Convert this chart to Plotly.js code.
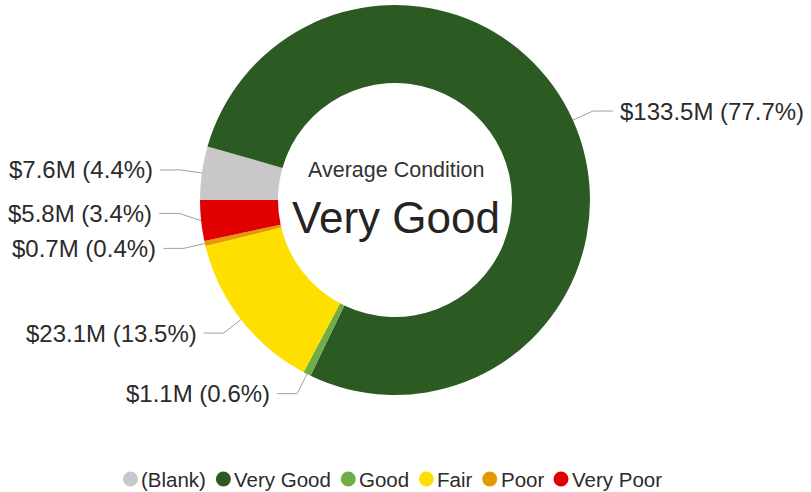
<!DOCTYPE html>
<html><head><meta charset="utf-8">
<script src="https://cdn.plot.ly/plotly-3.0.1.min.js"></script>
<style>html,body{margin:0;padding:0;background:#fff}#chart{width:811px;height:492px}</style>
</head><body><div id="chart"></div>
<script>
// ---- data ----
const categories = ['(Blank)', 'Very Good', 'Good', 'Fair', 'Poor', 'Very Poor'];
const valuesM    = [7.6, 133.5, 1.1, 23.1, 0.7, 5.8];
const percents   = [4.4, 77.7, 0.6, 13.5, 0.4, 3.4];
const colors     = ['#c8c8c8', '#2b5a23', '#70ad47', '#ffdf00', '#e39a00', '#e00000'];
const centerTitle = 'Average Condition';
const centerValue = 'Very Good';

// ---- layout constants ----
const W = 811, H = 492;
const FONT = '"Liberation Sans", Arial, sans-serif';
const dom = {x: [200 / W, 590 / W], y: [1 - 395 / H, 1 - 5 / H]};
const rotation = 270;
const cx = (dom.x[0] + dom.x[1]) / 2 * W;
const cy = (1 - (dom.y[0] + dom.y[1]) / 2) * H;
const R = Math.min((dom.x[1] - dom.x[0]) * W, (dom.y[1] - dom.y[0]) * H) / 2;
const px2x = x => x / W, px2y = y => 1 - y / H;

// ---- label geometry from data ----
const total = valuesM.reduce((a, b) => a + b, 0);
let ang = rotation;
const labels = valuesM.map((v, i) => {
  const a0 = ang, a1 = ang + v / total * 360; ang = a1;
  const t = (a0 + a1) / 2 * Math.PI / 180;
  const sn = Math.sin(t), cs = Math.cos(t);
  return {i, side: sn >= 0 ? 1 : -1, px: cx + R * sn, py: cy - R * cs,
          ex: cx + (R + 22) * sn, ey: cy - (R + 22) * cs};
});
[-1, 1].forEach(side => {
  const arr = labels.filter(l => l.side === side).sort((a, b) => b.ey - a.ey);
  for (let k = 1; k < arr.length; k++) arr[k].ey = Math.min(arr[k].ey, arr[k - 1].ey - 35);
});

const shapes = [], annotations = [];
labels.forEach(l => {
  const hx = l.ex + l.side * 20;
  shapes.push({type: 'path', xref: 'paper', yref: 'paper',
    path: `M ${px2x(l.px)},${px2y(l.py)} L ${px2x(l.ex)},${px2y(l.ey)} L ${px2x(hx)},${px2y(l.ey)}`,
    line: {color: '#a0a0a0', width: 1}});
  annotations.push({xref: 'paper', yref: 'paper', x: px2x(hx + l.side * 5), y: px2y(l.ey),
    xanchor: l.side > 0 ? 'left' : 'right', yanchor: 'middle', showarrow: false,
    text: `$${valuesM[l.i].toFixed(1)}M (${percents[l.i].toFixed(1)}%)`,
    font: {family: FONT, size: 24, color: '#2b2b2b'}});
});

// center text
annotations.push({xref: 'paper', yref: 'paper', x: px2x(cx + 1), y: px2y(170), xanchor: 'center', yanchor: 'middle',
  showarrow: false, text: centerTitle, font: {family: FONT, size: 21.5, color: '#333333'}});
annotations.push({xref: 'paper', yref: 'paper', x: px2x(cx + 1), y: px2y(217), xanchor: 'center', yanchor: 'middle',
  showarrow: false, text: centerValue, font: {family: FONT, size: 44, color: '#252423'}});

// ---- custom legend ----
const LFS = 20.5;
const ctx = document.createElement('canvas').getContext('2d');
ctx.font = `${LFS}px ${FONT}`;
const tw = categories.map(c => ctx.measureText(c).width);
const symToText = 10, textToNext = 18, rr = 7.5;
const totalW = rr + tw.reduce((a, b) => a + b, 0) + categories.length * symToText + (categories.length - 1) * textToNext;
let lx = 392 - totalW / 2 + rr;
const ly = 479;
categories.forEach((c, i) => {
  shapes.push({type: 'circle', xref: 'paper', yref: 'paper',
    x0: px2x(lx - rr), x1: px2x(lx + rr), y0: px2y(ly + rr), y1: px2y(ly - rr),
    fillcolor: colors[i], line: {width: 0}});
  annotations.push({xref: 'paper', yref: 'paper', x: px2x(lx + symToText - 1), y: px2y(ly),
    xanchor: 'left', yanchor: 'middle', showarrow: false, text: c,
    font: {family: FONT, size: LFS, color: '#2b2b2b'}});
  lx += symToText + tw[i] + textToNext;
});

const data = [{
  type: 'pie', labels: categories, values: valuesM, sort: false, direction: 'clockwise',
  rotation: rotation, hole: 0.6, domain: dom, textinfo: 'none', hoverinfo: 'label+value+percent',
  marker: {colors: colors, line: {width: 0}}, showlegend: false
}];
const layout = {
  width: W, height: H, margin: {l: 0, r: 0, t: 0, b: 0},
  paper_bgcolor: '#ffffff', showlegend: false,
  shapes: shapes, annotations: annotations, font: {family: FONT}
};
Plotly.newPlot('chart', data, layout, {displayModeBar: false, staticPlot: true});
</script></body></html>
